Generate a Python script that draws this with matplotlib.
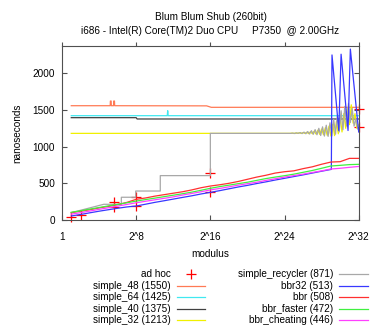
import matplotlib
matplotlib.use("Agg")
import matplotlib.pyplot as plt
from matplotlib.lines import Line2D

plt.rcParams['font.family'] = ['Liberation Sans', 'DejaVu Sans']
FS = 7.2

# ---------------- data (x = log2(modulus)) ----------------
tick_pos = [0, 8, 16, 24, 32]
tick_labels = ["1", "2^8", "2^16", "2^24", "2^32"]
y_ticks = [0, 500, 1000, 1500, 2000]

adhoc_x = [1, 2, 5.64, 5.64, 8, 8, 16, 16, 32, 32]
adhoc_y = [45, 70, 250, 180, 310, 191, 636, 386, 1513, 1272]

s48_x = [1, 5.2, 5.22, 5.3, 5.32, 5.56, 5.58, 5.66, 5.68, 15.6, 16.1, 32]
s48_y = [1558, 1558, 1622, 1622, 1558, 1558, 1622, 1622, 1558, 1556, 1536, 1536]

s64_x = [1, 11.35, 11.4, 11.45, 32]
s64_y = [1422, 1422, 1490, 1422, 1422]

s40_x = [1, 8.0, 8.1, 32]
s40_y = [1395, 1395, 1377, 1377]

s32_x = [1, 24.6, 24.8, 25.0, 25.2, 25.4, 25.6, 25.8, 26.0, 26.2, 26.4, 26.6,
         26.8, 27.0, 27.2, 27.4, 27.6, 27.8, 28.0, 28.2, 28.4, 28.6, 28.8,
         29.0, 29.2, 29.4, 29.6, 29.8, 30.0, 30.2, 30.4, 30.6, 30.8, 31.0,
         31.2, 31.4, 31.6, 31.8, 32.0]
s32_y = [1181, 1181, 1184, 1180, 1186, 1181, 1189, 1180, 1192, 1181, 1196, 1178,
         1203, 1176, 1212, 1172, 1225, 1168, 1240, 1163, 1258, 1155, 1280,
         1145, 1305, 1150, 1345, 1175, 1400, 1200, 1450, 1250, 1520, 1300,
         1570, 1320, 1450, 1250, 1300]

rec_x = [1, 4.5, 6.4, 6.4, 7.95, 7.95, 10.6, 10.6, 16, 16, 24.7, 24.9, 25.1,
         25.3, 25.5, 25.7, 25.9, 26.1, 26.3, 26.5, 26.7, 26.9, 27.1, 27.3,
         27.5, 27.7, 27.9, 28.1, 28.3, 28.5, 28.7, 28.9, 29.1, 29.3, 29.5,
         29.7, 29.9, 30.1, 30.3, 30.5, 30.7, 30.9, 31.1, 31.3, 31.5, 31.7, 31.9]
rec_y = [100, 214, 214, 310, 310, 395, 395, 605, 605, 1181, 1181, 1185, 1179,
         1188, 1181, 1192, 1178, 1198, 1176, 1206, 1172, 1218, 1168, 1232,
         1162, 1250, 1152, 1270, 1144, 1292, 1140, 1325, 1145, 1370, 1170,
         1430, 1200, 1490, 1230, 1550, 1280, 1590, 1330, 1520, 1280, 1380, 1240]

int_x = list(range(1, 33))
bbr_y = [100, 120, 140, 165, 185, 210, 240, 282, 300, 325, 345, 365, 385, 410,
         440, 463, 480, 500, 525, 555, 585, 610, 640, 658, 670, 700, 725, 760,
         790, 795, 840, 840]
fast_y = [105, 125, 148, 170, 192, 212, 235, 258, 278, 298, 318, 338, 358, 380,
          405, 432, 455, 475, 495, 515, 540, 565, 585, 604, 625, 650, 675, 705,
          736, 745, 755, 759]
cheat_y = [80, 100, 122, 145, 167, 190, 212, 235, 255, 275, 295, 315, 340, 362,
           385, 410, 430, 452, 475, 495, 515, 540, 562, 585, 605, 625, 648, 670,
           695, 705, 718, 730]

b32_x = list(range(1, 29)) + [29.05, 29.12, 29.85, 30.1, 30.85, 31.1, 32]
b32_y = [55, 75, 98, 120, 140, 160, 178, 191, 215, 240, 262, 285, 308, 330, 355,
         377, 400, 425, 450, 472, 497, 520, 545, 568, 592, 615, 640, 665,
         690, 2250, 1220, 2260, 1220, 2330, 1200]

labels = ["ad hoc", "simple_48 (1550)", "simple_64 (1425)", "simple_40 (1375)",
          "simple_32 (1213)", "simple_recycler (871)", "bbr32 (513)", "bbr (508)",
          "bbr_faster (472)", "bbr_cheating (446)"]
colors = ["#ff0000", "#ff7a55", "#40e8f0", "#404040", "#f0f000", "#a8a8a8",
          "#3838ff", "#ff3030", "#40f040", "#ff40ff"]

series = [(s48_x, s48_y), (s64_x, s64_y), (s40_x, s40_y), (s32_x, s32_y),
          (rec_x, rec_y), (b32_x, b32_y), (int_x, bbr_y), (int_x, fast_y),
          (int_x, cheat_y)]

# ---------------- figure ----------------
W, H = 374, 330
fig = plt.figure(figsize=(W / 100, H / 100), dpi=100)
L, R, T, B = 62, 358.7, 46, 220
ax = fig.add_axes([L / W, 1 - B / H, (R - L) / W, (B - T) / H])

LW = 0.9
ax.plot(adhoc_x, adhoc_y, linestyle='none', marker='+', color=colors[0],
        markersize=7, markeredgewidth=0.9, clip_on=False, zorder=2)
for (xs, ys), c in zip(series, colors[1:]):
    ax.plot(xs, ys, color=c, lw=LW, zorder=2)

ax.set_xlim(0, 32)
ax.set_ylim(0, 2372)
ax.set_xticks(tick_pos)
ax.set_xticklabels(tick_labels)
ax.set_yticks(y_ticks)
frame_c = '#505050'
for s in ax.spines.values():
    s.set_color(frame_c)
    s.set_linewidth(0.8)
ax.tick_params(axis='x', direction='in', length=3.6, width=0.8, color=frame_c,
               labelsize=FS, pad=9)
ax.tick_params(axis='y', direction='in', length=3.6, width=0.8, color=frame_c,
               labelsize=FS, right=True, pad=5)
top = ax.secondary_xaxis('top')
top.set_xticks(tick_pos)
top.set_xticklabels([])
top.tick_params(direction='out', length=3, width=0.8, color=frame_c)
top.spines['top'].set_visible(False)

ax.set_xlabel("modulus", fontsize=FS)
ax.xaxis.set_label_coords(0.5, -0.165)
ax.set_ylabel("nanoseconds", fontsize=FS)
ax.yaxis.set_label_coords(-0.135, 0.5)

fig.text(210.5 / W, 1 - 17 / H, "Blum Blum Shub (260bit)", ha='center', va='center', fontsize=FS)
fig.text(210.5 / W, 1 - 30.5 / H, "i686 - Intel(R) Core(TM)2 Duo CPU     P7350  @ 2.00GHz",
         ha='center', va='center', fontsize=FS)

# ---------------- legend (gnuplot style, label then sample) ----------------
row_y = [274.3, 285.7, 297.2, 308.7, 320.0]
cols = [(171, 176.7, 205), (333.3, 339, 367.7)]
for i, (lab, c) in enumerate(zip(labels, colors)):
    col, row = divmod(i, 5)
    tx, x0, x1 = cols[col]
    yy = 1 - row_y[row] / H
    fig.text(tx / W, yy, lab, ha='right', va='center', fontsize=FS)
    if i == 0:
        fig.add_artist(Line2D([(x0 + x1) / 2 / W], [yy], marker='+', color=c,
                              markersize=7, markeredgewidth=0.9, linestyle='none'))
    else:
        fig.add_artist(Line2D([x0 / W, x1 / W], [yy, yy], color=c, lw=LW))

fig.savefig("out.png", dpi=100)
